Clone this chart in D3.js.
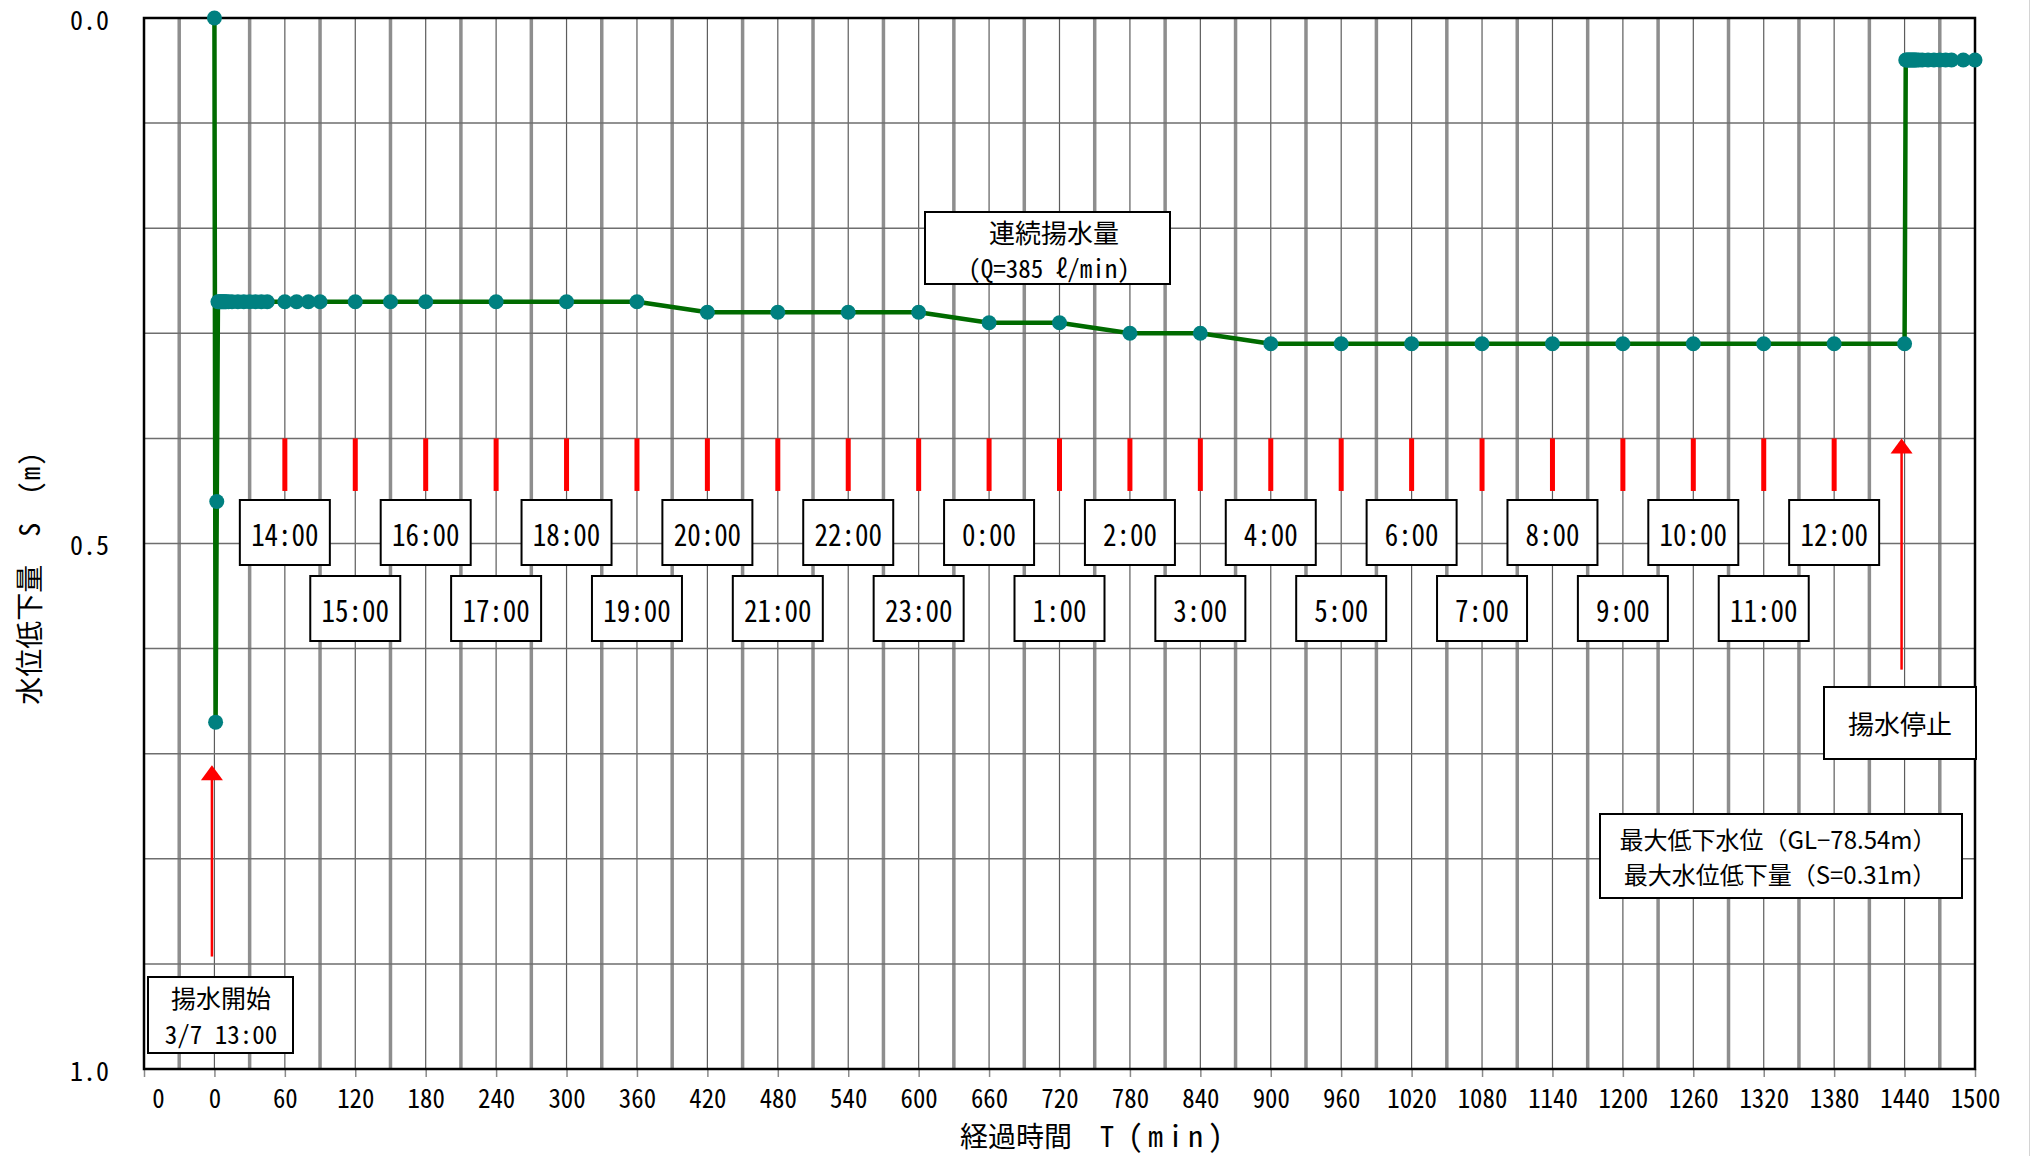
<!DOCTYPE html>
<html lang="ja">
<head>
<meta charset="utf-8">
<script src="https://cdn.jsdelivr.net/npm/d3@7"></script>
<style>
  html, body { margin: 0; padding: 0; background: #fff; }
  svg { display: block; }
  text { font-family: "Noto Sans Mono CJK JP", "Noto Sans CJK JP", "Noto Sans", sans-serif; fill: #000; }
  .prop { font-family: "Noto Sans CJK JP", "Noto Sans", sans-serif; }
</style>
</head>
<body>
<svg id="chart" width="2031" height="1156"></svg>
<script>
// Pumping test: elapsed time T (min) since 3/7 13:00 and drawdown S (m)
const elapsedMin = [
  0, 1, 2, 3, 4, 5, 6, 7, 8, 9, 10, 12, 15, 20, 25, 30, 35, 40, 45,
  60, 70, 80, 90, 120, 150, 180, 240, 300, 360,
  420, 480, 540, 600, 660, 720, 780, 840,
  900, 960, 1020, 1080, 1140, 1200, 1260, 1320, 1380, 1440,
  1441, 1442, 1443, 1444, 1445, 1446, 1447, 1448, 1449, 1450,
  1452, 1455, 1460, 1465, 1470, 1475, 1480, 1490, 1500
];
const drawdownM = [
  0.00, 0.67, 0.46, 0.27, 0.27, 0.27, 0.27, 0.27, 0.27, 0.27, 0.27, 0.27, 0.27, 0.27, 0.27, 0.27, 0.27, 0.27, 0.27,
  0.27, 0.27, 0.27, 0.27, 0.27, 0.27, 0.27, 0.27, 0.27, 0.27,
  0.28, 0.28, 0.28, 0.28, 0.29, 0.29, 0.30, 0.30,
  0.31, 0.31, 0.31, 0.31, 0.31, 0.31, 0.31, 0.31, 0.31, 0.31,
  0.04, 0.04, 0.04, 0.04, 0.04, 0.04, 0.04, 0.04, 0.04, 0.04,
  0.04, 0.04, 0.04, 0.04, 0.04, 0.04, 0.04, 0.04, 0.04
];

// Bottom axis ticks (min) and their printed labels
const xTickValues = [-60, 0, 60, 120, 180, 240, 300, 360, 420, 480, 540, 600, 660, 720, 780,
  840, 900, 960, 1020, 1080, 1140, 1200, 1260, 1320, 1380, 1440, 1500];
const xTickLabels = ["0", "0", "60", "120", "180", "240", "300", "360", "420", "480", "540", "600",
  "660", "720", "780", "840", "900", "960", "1020", "1080", "1140", "1200", "1260", "1320",
  "1380", "1440", "1500"];

// Left axis ticks (m)
const yTickValues = [0, 0.5, 1.0];
const yTickLabels = ["0.0", "0.5", "1.0"];

// Clock time marks along the test
const clockMin = [60, 120, 180, 240, 300, 360, 420, 480, 540, 600, 660, 720, 780, 840,
  900, 960, 1020, 1080, 1140, 1200, 1260, 1320, 1380];
const clockLabels = ["14:00", "15:00", "16:00", "17:00", "18:00", "19:00", "20:00", "21:00",
  "22:00", "23:00", "0:00", "1:00", "2:00", "3:00", "4:00", "5:00", "6:00", "7:00", "8:00",
  "9:00", "10:00", "11:00", "12:00"];

const startMin = 0;      // pumping start
const stopMin = 1440;    // pumping stop

const W = 2031, H = 1156;
const svg = d3.select("#chart");

const x = d3.scaleLinear().domain([-60, 1500]).range([144, 1975]);
const y = d3.scaleLinear().domain([0, 1]).range([18, 1069]);

svg.append("rect").attr("width", W).attr("height", H).attr("fill", "#fff");
svg.append("line").attr("x1", W - 1.5).attr("x2", W - 1.5).attr("y1", 0).attr("y2", H)
  .attr("stroke", "#d4d4d4").attr("stroke-width", 1);

// Vertical grid: thin dark every 60 min, heavy grey at the half hours
svg.append("g").selectAll("line")
  .data(d3.range(-30, 1500, 30))
  .join("line")
  .attr("x1", d => x(d)).attr("x2", d => x(d))
  .attr("y1", y(0)).attr("y2", y(1))
  .attr("stroke", d => d % 60 === 0 ? "#5c5c5c" : "#8e8e8e")
  .attr("stroke-width", d => d % 60 === 0 ? 1.2 : 3.5);

// Horizontal grid every 0.1 m
svg.append("g").selectAll("line")
  .data(d3.range(1, 10).map(i => i / 10))
  .join("line")
  .attr("x1", x(-60)).attr("x2", x(1500))
  .attr("y1", d => y(d)).attr("y2", d => y(d))
  .attr("stroke", "#6e6e6e").attr("stroke-width", 1.5);

// Bottom axis
const xAxis = d3.axisBottom(x)
  .tickValues(xTickValues)
  .tickFormat((d, i) => xTickLabels[i])
  .tickSize(8);
const gx = svg.append("g").attr("transform", `translate(0,${y(1)})`).call(xAxis);
gx.select(".domain").remove();
gx.selectAll(".tick line").attr("stroke", "#8a8a8a").attr("stroke-width", 1.5);
gx.selectAll(".tick text")
  .attr("y", 39).attr("dy", 0)
  .attr("font-size", 27)
  .attr("font-family", null)
  .attr("fill", "#000")
  .attr("transform", (d, i) => i === 0 ? "translate(14,0) scale(0.92,1)" : "scale(0.92,1)");

// Left axis labels
svg.append("g").selectAll("text")
  .data(yTickValues)
  .join("text")
  .attr("x", 109).attr("y", d => y(d))
  .attr("text-anchor", "end").attr("dominant-baseline", "central")
  .attr("font-size", 26)
  .text((d, i) => yTickLabels[i]);

// Axis titles
const xt = svg.append("text")
  .attr("x", 1094).attr("y", 1147)
  .attr("text-anchor", "middle").attr("font-size", 28);
xt.append("tspan").text("経過時間　T ");
xt.append("tspan").attr("font-size", 30).attr("letter-spacing", 5).text("(min)");

const yt = svg.append("text")
  .attr("transform", "translate(40,578) rotate(-90)")
  .attr("text-anchor", "middle").attr("font-size", 28);
yt.append("tspan").text("水位低下量　S　");
yt.append("tspan").attr("font-size", 27).attr("letter-spacing", 1).text("(m)");

// Plot frame
svg.append("rect")
  .attr("x", x(-60)).attr("y", y(0))
  .attr("width", x(1500) - x(-60)).attr("height", y(1) - y(0))
  .attr("fill", "none").attr("stroke", "#000").attr("stroke-width", 2.5);

// Red hourly marks
svg.append("g").selectAll("rect")
  .data(clockMin)
  .join("rect")
  .attr("x", d => x(d) - 2.5).attr("width", 5)
  .attr("y", y(0.40)).attr("height", y(0.45) - y(0.40))
  .attr("fill", "#ff0000");

// Red arrows for start and stop of pumping
function arrow(px, yFrom, yTip) {
  const g = svg.append("g");
  g.append("line").attr("x1", px).attr("x2", px).attr("y1", yFrom).attr("y2", yTip + 12)
    .attr("stroke", "#ff0000").attr("stroke-width", 2.5);
  g.append("path")
    .attr("d", `M${px},${yTip} L${px - 11},${yTip + 15} L${px + 11},${yTip + 15} Z`)
    .attr("fill", "#ff0000");
}
arrow(x(startMin) - 2.5, y(0.893), y(0.711));
arrow(x(stopMin) - 3, y(0.62), y(0.40));

// Drawdown curve
const pts = elapsedMin.map((t, i) => [t, drawdownM[i]]);
svg.append("path")
  .datum(pts)
  .attr("d", d3.line().x(d => x(d[0])).y(d => y(d[1])))
  .attr("fill", "none").attr("stroke", "#006b00").attr("stroke-width", 4.5)
  .attr("stroke-linejoin", "round");
svg.append("g").selectAll("circle")
  .data(pts)
  .join("circle")
  .attr("cx", d => x(d[0])).attr("cy", d => y(d[1])).attr("r", 7.5)
  .attr("fill", "#008080");

// Clock time boxes, alternating rows
const boxW = 90, boxH = 65;
const clk = svg.append("g").selectAll("g")
  .data(clockMin)
  .join("g")
  .attr("transform", (d, i) => `translate(${x(d)},${i % 2 === 0 ? 500 : 576})`);
clk.append("rect")
  .attr("x", -boxW / 2).attr("y", 0).attr("width", boxW).attr("height", boxH)
  .attr("fill", "#fff").attr("stroke", "#000").attr("stroke-width", 2);
clk.append("text")
  .attr("transform", `translate(0,${boxH / 2}) scale(0.9,1)`)
  .attr("text-anchor", "middle").attr("dominant-baseline", "central")
  .attr("font-size", 30)
  .text((d, i) => clockLabels[i]);

// Text boxes
function noteBox(x0, y0, w, h, lines, cls) {
  const g = svg.append("g");
  g.append("rect").attr("x", x0).attr("y", y0).attr("width", w).attr("height", h)
    .attr("fill", "#fff").attr("stroke", "#000").attr("stroke-width", 2);
  lines.forEach(l => {
    const t = g.append("text")
      .attr("x", l.cx).attr("y", l.cy)
      .attr("text-anchor", "middle").attr("dominant-baseline", "central")
      .attr("font-size", l.size)
      .text(l.text);
    if (cls) t.attr("class", cls);
  });
}
noteBox(925, 212, 245, 72, [
  { text: "連続揚水量", cx: 1054, cy: 231, size: 26 },
  { text: "(Q=385 ℓ/min)", cx: 1049, cy: 267, size: 25 }
]);
noteBox(148, 977, 145, 76, [
  { text: "揚水開始", cx: 221, cy: 997, size: 25 },
  { text: "3/7 13:00", cx: 221, cy: 1033, size: 25 }
]);
noteBox(1824, 687, 152, 72, [
  { text: "揚水停止", cx: 1900, cy: 722, size: 26 }
]);
noteBox(1600, 814, 362, 84, [
  { text: "最大低下水位（GL−78.54m）", cx: 1778, cy: 838, size: 24 },
  { text: "最大水位低下量（S=0.31m）", cx: 1780, cy: 873, size: 24 }
], "prop");
</script>
</body>
</html>
